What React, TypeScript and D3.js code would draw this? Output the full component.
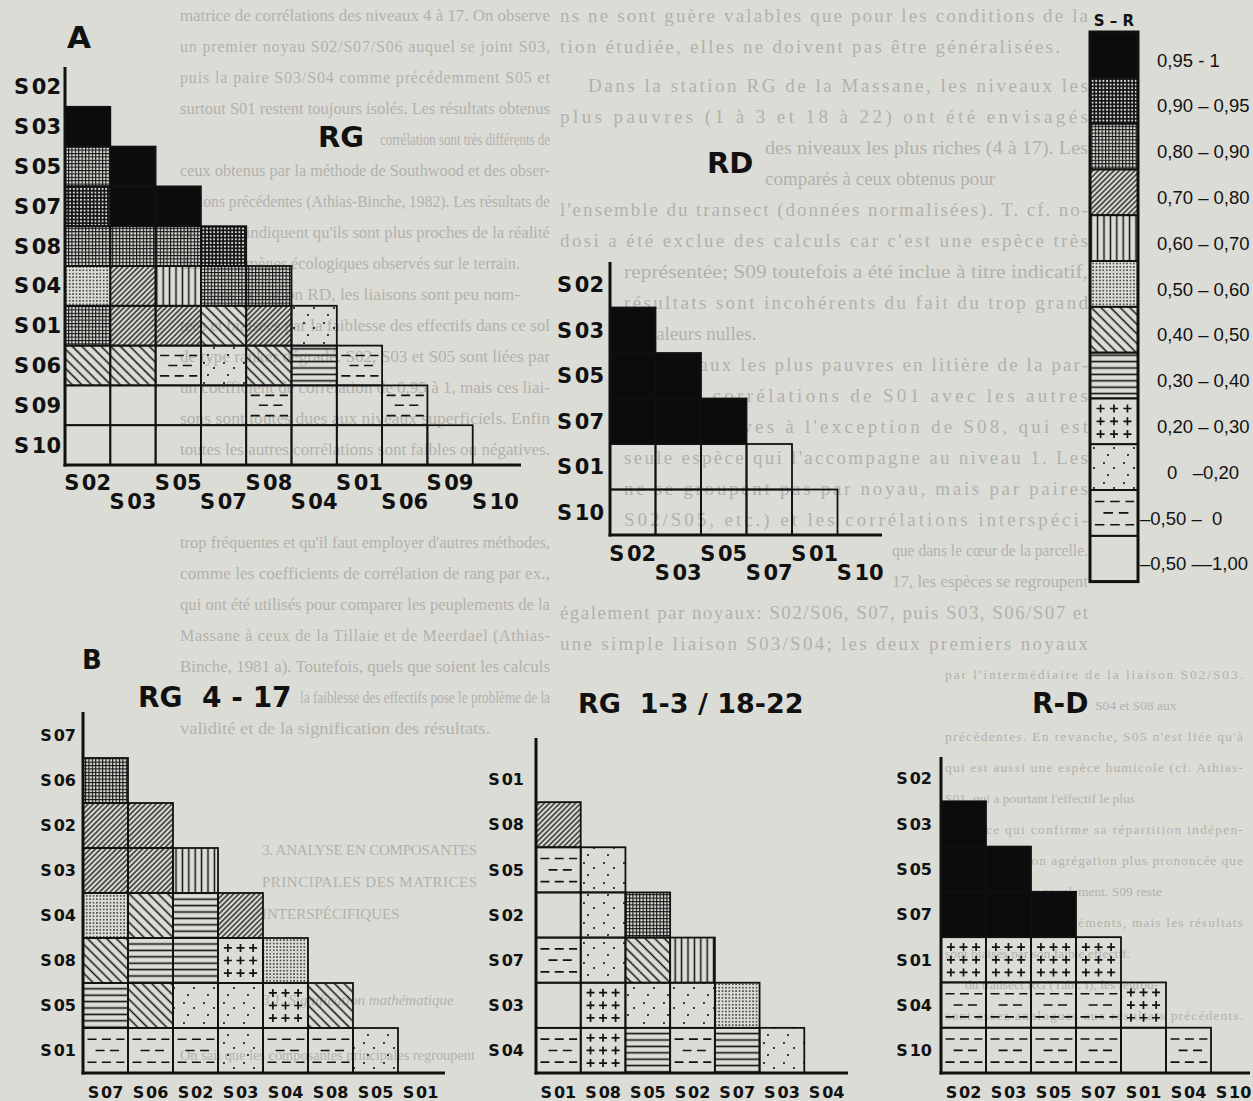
import React from "react";
import * as d3 from "d3";

const W = 1253;
const H = 1101;
const PAPER = "#dcdcd7";
const INK = "#111111";
const GHOST = "#b1b1ac";

// ---------- legend classes (S - R) ----------
const classLabels = [
  "0,95 - 1",
  "0,90 – 0,95",
  "0,80 – 0,90",
  "0,70 – 0,80",
  "0,60 – 0,70",
  "0,50 – 0,60",
  "0,40 – 0,50",
  "0,30 – 0,40",
  "0,20 – 0,30",
  "0   –0,20",
  "–0,50 –  0",
  "–0,50 ––1,00",
];

// ---------- A : RG ----------
const rgSpecies = ["S02", "S03", "S05", "S07", "S08", "S04", "S01", "S06", "S09", "S10"];
const rgMatrix = [
  [],
  [0],
  [2, 0],
  [1, 0, 0],
  [2, 2, 2, 1],
  [5, 3, 4, 2, 2],
  [2, 3, 3, 6, 3, 9],
  [6, 6, 10, 9, 6, 7, 10],
  [11, 11, 11, 11, 10, 11, 11, 10],
  [11, 11, 11, 11, 11, 11, 11, 11, 11],
];

// ---------- A : RD ----------
const rdSpecies = ["S02", "S03", "S05", "S07", "S01", "S10"];
const rdMatrix = [
  [],
  [0],
  [0, 0],
  [0, 0, 0],
  [11, 11, 11, 11],
  [11, 11, 11, 11, 11],
];

// ---------- B : RG 4-17 ----------
const rg417Species = ["S07", "S06", "S02", "S03", "S04", "S08", "S05", "S01"];
const rg417Matrix = [
  [],
  [2],
  [3, 3],
  [3, 3, 4],
  [5, 6, 7, 3],
  [6, 7, 7, 8, 5],
  [7, 6, 9, 9, 8, 6],
  [10, 10, 10, 9, 10, 10, 9],
];

// ---------- B : RG 1-3 / 18-22 ----------
const rg13Species = ["S01", "S08", "S05", "S02", "S07", "S03", "S04"];
const rg13Matrix = [
  [],
  [3],
  [10, 9],
  [11, 9, 2],
  [10, 9, 6, 4],
  [11, 8, 9, 9, 5],
  [10, 8, 7, 10, 7, 9],
];

// ---------- B : R-D ----------
const rdBSpecies = ["S02", "S03", "S05", "S07", "S01", "S04", "S10"];
const rdBMatrix = [
  [],
  [0],
  [0, 0],
  [0, 0, 0],
  [8, 8, 8, 8],
  [10, 10, 10, 10, 8],
  [10, 10, 10, 10, 11, 10],
];

// ---------- faint page text showing through (visible fragments) ----------
const ghostLeft = [
  "matrice de corrélations des niveaux 4 à 17. On observe",
  "un premier noyau S02/S07/S06 auquel se joint S03,",
  "puis la paire S03/S04 comme précédemment S05 et",
  "surtout S01 restent toujours isolés. Les résultats obtenus",
  "corrélation sont très différents de",
  "ceux obtenus par la méthode de Southwood et des obser-",
  "vations précédentes (Athias-Binche, 1982). Les résultats de",
  "ce travail indiquent qu'ils sont plus proches de la réalité",
  "des phénomènes écologiques observés sur le terrain.",
  "Dans la station RD, les liaisons sont peu nom-",
  "tées et biaisées par la faiblesse des effectifs dans ce sol",
  "de type ranker dégradé. S02, S03 et S05 sont liées par",
  "un coefficient de corrélation de 0,95 à 1, mais ces liai-",
  "sons sont toutes dues aux niveaux superficiels. Enfin",
  "toutes les autres corrélations sont faibles ou négatives.",
  "trop fréquentes et qu'il faut employer d'autres méthodes,",
  "comme les coefficients de corrélation de rang par ex.,",
  "qui ont été utilisés pour comparer les peuplements de la",
  "Massane à ceux de la Tillaie et de Meerdael (Athias-",
  "Binche, 1981 a). Toutefois, quels que soient les calculs",
  "la faiblesse des effectifs pose le problème de la",
  "validité et de la signification des résultats.",
  "3. ANALYSE EN COMPOSANTES",
  "PRINCIPALES DES MATRICES",
  "INTERSPÉCIFIQUES",
  "3.1. Signification mathématique",
  "On sait que les composantes principales regroupent",
];
const ghostRight = [
  "ns ne sont guère valables que pour les conditions de la",
  "tion étudiée, elles ne doivent pas être généralisées.",
  "Dans la station RG de la Massane, les niveaux les",
  "plus pauvres (1 à 3 et 18 à 22) ont été envisagés",
  "des niveaux les plus riches (4 à 17). Les",
  "comparés à ceux obtenus pour",
  "l'ensemble du transect (données normalisées). T. cf. no-",
  "dosi a été exclue des calculs car c'est une espèce très",
  "représentée; S09 toutefois a été inclue à titre indicatif,",
  "résultats sont incohérents du fait du trop grand",
  "de valeurs nulles.",
  "les niveaux les plus pauvres en litière de la par-",
  "RG, les corrélations de S01 avec les autres",
  "sont négatives à l'exception de S08, qui est",
  "seule espèce qui l'accompagne au niveau 1. Les",
  "ne se groupent pas par noyau, mais par paires",
  "S02/S05, etc.) et les corrélations interspéci-",
  "que dans le cœur de la parcelle.",
  "17, les espèces se regroupent",
  "également par noyaux: S02/S06, S07, puis S03, S06/S07 et",
  "une simple liaison S03/S04; les deux premiers noyaux",
  "par l'intermédiaire de la liaison S02/S03.",
  "S04 et S08 aux",
  "précédentes. En revanche, S05 n'est liée qu'à",
  "qui est aussi une espèce humicole (cf. Athias-",
  "S01, qui a pourtant l'effectif le plus",
  "isolé, ce qui confirme sa répartition indépen-",
  "du milieu et son agrégation plus prononcée que",
  "autres espèces du peuplement. S09 reste",
  "éloigné des autres éléments, mais les résultats",
  "sont biaisés par son faible effectif.",
  "du transect RG (Tabl. I), les regrou-",
  "sont assez analogues aux résultats précédents.",
];

// ---------- layout (positions only) ----------
// [x, y, width (0 = natural), fontSize, style]
const ghostLeftPos: [number, number, number, number, string][] = [
  [180, 15, 370, 16, "n"], [180, 46, 370, 16, "n"], [180, 77, 370, 16, "n"], [180, 108, 370, 16, "n"],
  [380, 139, 170, 16, "n"], [180, 170, 370, 16, "n"], [180, 201, 370, 16, "n"], [180, 232, 370, 16, "n"],
  [180, 263, 340, 16, "n"], [200, 294, 320, 16, "n"], [180, 325, 370, 16, "n"], [180, 356, 370, 16, "n"],
  [180, 387, 370, 16, "n"], [180, 418, 370, 16, "n"], [180, 449, 370, 16, "n"], [180, 542, 370, 16, "n"],
  [180, 573, 370, 16, "n"], [180, 604, 370, 16, "n"], [180, 635, 370, 16, "n"], [180, 666, 370, 16, "n"],
  [300, 697, 250, 16, "n"], [180, 728, 310, 16, "n"],
  [262, 850, 215, 15, "n"], [262, 882, 215, 15, "n"], [262, 914, 0, 15, "n"],
  [262, 1000, 0, 15, "i"], [180, 1055, 295, 15, "n"],
];
const ghostRightPos: [number, number, number, number, string][] = [
  [560, 15, 528, 19, "n"], [560, 46, 500, 19, "n"], [588, 85, 500, 19, "n"], [560, 116, 528, 19, "n"],
  [765, 147, 323, 19, "n"], [765, 178, 0, 19, "n"], [560, 209, 528, 19, "n"], [560, 240, 528, 19, "n"],
  [624, 271, 464, 19, "n"], [624, 302, 464, 19, "n"], [624, 333, 0, 19, "n"], [624, 364, 464, 19, "n"],
  [624, 395, 464, 19, "n"], [624, 426, 464, 19, "n"], [624, 457, 464, 19, "n"], [624, 488, 464, 19, "n"],
  [624, 519, 464, 19, "n"], [892, 550, 196, 17, "n"], [892, 581, 196, 17, "n"], [560, 612, 528, 19, "n"],
  [560, 643, 528, 19, "n"],
  [945, 674, 298, 13.5, "n"], [1095, 705, 0, 13.5, "n"], [945, 736, 298, 13.5, "n"], [945, 767, 298, 13.5, "n"],
  [945, 798, 0, 13.5, "n"], [945, 829, 298, 13.5, "n"], [945, 860, 298, 13.5, "n"], [945, 891, 0, 13.5, "n"],
  [945, 922, 298, 13.5, "n"], [945, 953, 0, 13.5, "n"], [965, 984, 0, 13.5, "n"], [945, 1015, 298, 13.5, "n"],
];

type PanelLayout = {
  x0: number; x1: number; yTop: number; yBottom: number;
  axisTop: number; axisRight: number;
  fs: number; gap: number; xLabelY: number; xLabelY2?: number;
  title: string; titleX: number; titleY: number; titleSize: number;
};

const panels: { species: string[]; matrix: number[][]; lay: PanelLayout }[] = [
  { species: rgSpecies, matrix: rgMatrix, lay: { x0: 65, x1: 518, yTop: 67, yBottom: 465, axisTop: 67, axisRight: 521, fs: 21, gap: 4, xLabelY: 482, xLabelY2: 501, title: "RG", titleX: 318, titleY: 137, titleSize: 29 } },
  { species: rdSpecies, matrix: rdMatrix, lay: { x0: 610, x1: 883, yTop: 262, yBottom: 535, axisTop: 262, axisRight: 882, fs: 21, gap: 6, xLabelY: 553, xLabelY2: 572, title: "RD", titleX: 707, titleY: 163, titleSize: 29 } },
  { species: rg417Species, matrix: rg417Matrix, lay: { x0: 83, x1: 443, yTop: 713, yBottom: 1073, axisTop: 712, axisRight: 445, fs: 16, gap: 7, xLabelY: 1092, title: "RG  4 - 17", titleX: 138, titleY: 697, titleSize: 28 } },
  { species: rg13Species, matrix: rg13Matrix, lay: { x0: 536, x1: 849, yTop: 757, yBottom: 1073, axisTop: 738, axisRight: 848, fs: 16, gap: 12, xLabelY: 1092, title: "RG  1-3 / 18-22", titleX: 578, titleY: 703, titleSize: 27 } },
  { species: rdBSpecies, matrix: rdBMatrix, lay: { x0: 941, x1: 1256, yTop: 756, yBottom: 1073, axisTop: 757, axisRight: 1250, fs: 16, gap: 9, xLabelY: 1092, title: "R-D", titleX: 1032, titleY: 703, titleSize: 28 } },
];

const LABEL_FONT = "'DejaVu Sans', sans-serif";
const LEGEND = { x: 1090, w: 48, top: 32, h: 45.8 };
const legendLabelX = [1157, 1157, 1157, 1157, 1157, 1157, 1157, 1157, 1157, 1167, 1140, 1140];

const fillFor = (c: number) =>
  ["#0c0c0c", "url(#p1)", "url(#p2)", "url(#p3)", "url(#p4)", "url(#p5)", "url(#p6)", "url(#p7)", "none", "url(#p9)", "none", "none"][c];

function Glyphs({ x, y, w, h, c }: { x: number; y: number; w: number; h: number; c: number }) {
  if (c === 8) {
    const fx = [0.22, 0.5, 0.78];
    const fy = [0.22, 0.5, 0.78];
    let d = "";
    fy.forEach((b) => fx.forEach((a) => {
      const cx = x + a * w, cy = y + b * h;
      d += `M${cx - 4},${cy}H${cx + 4}M${cx},${cy - 4}V${cy + 4}`;
    }));
    return <path d={d} stroke={INK} strokeWidth={1.7} fill="none" />;
  }
  if (c === 10) {
    const rows: [number, [number, number][]][] = [
      [0.25, [[0.1, 0.3], [0.42, 0.62], [0.74, 0.92]]],
      [0.5, [[0.28, 0.48], [0.6, 0.8]]],
      [0.76, [[0.1, 0.3], [0.42, 0.62], [0.74, 0.92]]],
    ];
    let d = "";
    rows.forEach(([fy, segs]) => segs.forEach(([a, b]) => {
      d += `M${x + a * w},${y + fy * h}H${x + b * w}`;
    }));
    return <path d={d} stroke={INK} strokeWidth={1.6} fill="none" />;
  }
  return null;
}

function Cell({ x, y, w, h, c }: { x: number; y: number; w: number; h: number; c: number }) {
  return (
    <g>
      <rect x={x} y={y} width={w} height={h} fill={fillFor(c)} stroke={INK} strokeWidth={1.8} />
      <Glyphs x={x} y={y} w={w} h={h} c={c} />
    </g>
  );
}

function SLabel({ name, x, y, anchor, fs }: { name: string; x: number; y: number; anchor: string; fs: number }) {
  return (
    <text x={x} y={y} dy="0.36em" textAnchor={anchor} fontFamily={LABEL_FONT} fontWeight={700} fontSize={fs} fill={INK}>
      <tspan>{name.slice(0, 1)}</tspan>
      <tspan dx={fs * 0.12}>{name.slice(1)}</tspan>
    </text>
  );
}

function Matrix({ species, matrix, lay }: { species: string[]; matrix: number[][]; lay: PanelLayout }) {
  const x = d3.scaleBand<string>().domain(species).range([lay.x0, lay.x1]);
  const y = d3.scaleBand<string>().domain(species).range([lay.yTop, lay.yBottom]);
  const bw = x.bandwidth();
  const bh = y.bandwidth();
  return (
    <g>
      {matrix.map((row, i) =>
        row.map((c, j) => (
          <Cell key={`${i}-${j}`} x={x(species[j])!} y={y(species[i])!} w={bw} h={bh} c={c} />
        ))
      )}
      <line x1={lay.x0} x2={lay.x0} y1={lay.axisTop} y2={lay.yBottom + 1.5} stroke={INK} strokeWidth={3} />
      <line x1={lay.x0 - 1.5} x2={lay.axisRight} y1={lay.yBottom} y2={lay.yBottom} stroke={INK} strokeWidth={3} />
      {species.map((s) => (
        <SLabel key={"y" + s} name={s} x={lay.x0 - lay.gap} y={y(s)! + bh / 2} anchor="end" fs={lay.fs} />
      ))}
      {species.map((s, i) => (
        <SLabel
          key={"x" + s}
          name={s}
          x={x(s)! + bw / 2}
          y={lay.xLabelY2 !== undefined && i % 2 === 1 ? lay.xLabelY2 : lay.xLabelY}
          anchor="middle"
          fs={lay.fs}
        />
      ))}
      <text x={lay.titleX} y={lay.titleY} dy="0.36em" fontFamily={LABEL_FONT} fontWeight={700} fontSize={lay.titleSize} fill={INK} style={{ whiteSpace: "pre" }}>
        {lay.title}
      </text>
    </g>
  );
}

function Legend() {
  const y = d3.scaleBand<number>().domain(d3.range(classLabels.length)).range([LEGEND.top, LEGEND.top + LEGEND.h * classLabels.length]);
  return (
    <g>
      <text x={LEGEND.x + LEGEND.w / 2} y={21} dy="0.36em" textAnchor="middle" fontFamily={LABEL_FONT} fontWeight={700} fontSize={15} fill={INK}>
        S – R
      </text>
      {classLabels.map((lab, i) => (
        <g key={i}>
          <Cell x={LEGEND.x} y={y(i)!} w={LEGEND.w} h={y.bandwidth()} c={i} />
          <text x={legendLabelX[i]} y={y(i)! + y.bandwidth() / 2 + 5} dy="0.36em" fontFamily="'Liberation Sans', Arial, sans-serif" fontSize={18.5} fill={INK} style={{ whiteSpace: "pre" }}>
            {lab}
          </text>
        </g>
      ))}
      <rect x={LEGEND.x} y={LEGEND.top} width={LEGEND.w} height={LEGEND.h * classLabels.length} fill="none" stroke={INK} strokeWidth={3} />
    </g>
  );
}

function GhostLine({ t, pos }: { t: string; pos: [number, number, number, number, string] }) {
  const [x, y, w, fs, st] = pos;
  const natural = t.length * 0.44 * fs;
  const extra = w > 0 ? { textLength: w, lengthAdjust: w > natural ? "spacing" : "spacingAndGlyphs" } : {};
  return (
    <text
      x={x}
      y={y}
      dy="0.35em"
      fontFamily="'Liberation Serif', 'DejaVu Serif', serif"
      fontStyle={st === "i" ? "italic" : "normal"}
      fontSize={fs}
      fill={GHOST}
      {...extra}
    >
      {t}
    </text>
  );
}

function Ghost() {
  return (
    <g>
      {ghostLeft.map((t, i) => <GhostLine key={"l" + i} t={t} pos={ghostLeftPos[i]} />)}
      {ghostRight.map((t, i) => <GhostLine key={"r" + i} t={t} pos={ghostRightPos[i]} />)}
    </g>
  );
}

export default function App() {
  return (
    <div style={{ position: "absolute", left: 0, top: 0, width: W, height: H, background: PAPER }}>
      <svg width={W} height={H} viewBox={`0 0 ${W} ${H}`} style={{ display: "block" }}>
        <defs>
          <pattern id="p1" width={3.6} height={3.6} patternUnits="userSpaceOnUse">
            <rect width={3.6} height={3.6} fill={INK} />
            <circle cx={1.8} cy={1.8} r={1.05} fill="#e6e6e2" />
          </pattern>
          <pattern id="p2" width={3.4} height={3.4} patternUnits="userSpaceOnUse">
            <path d="M0,0.55H3.4M0.55,0V3.4" stroke={INK} strokeWidth={1.1} />
          </pattern>
          <pattern id="p3" width={3.7} height={10} patternUnits="userSpaceOnUse" patternTransform="rotate(45)">
            <line x1={1.85} y1={0} x2={1.85} y2={10} stroke={INK} strokeWidth={1.3} />
          </pattern>
          <pattern id="p4" width={6.4} height={10} patternUnits="userSpaceOnUse">
            <line x1={3.2} y1={0} x2={3.2} y2={10} stroke={INK} strokeWidth={1.5} />
          </pattern>
          <pattern id="p5" width={3.4} height={3.4} patternUnits="userSpaceOnUse">
            <circle cx={1.7} cy={1.7} r={0.85} fill="#222" />
          </pattern>
          <pattern id="p6" width={6.8} height={10} patternUnits="userSpaceOnUse" patternTransform="rotate(-45)">
            <line x1={3.4} y1={0} x2={3.4} y2={10} stroke={INK} strokeWidth={1.5} />
          </pattern>
          <pattern id="p7" width={10} height={6.4} patternUnits="userSpaceOnUse">
            <line x1={0} y1={3.2} x2={10} y2={3.2} stroke={INK} strokeWidth={1.6} />
          </pattern>
          <pattern id="p9" width={20} height={20} patternUnits="userSpaceOnUse">
            <circle cx={4} cy={3} r={1.05} fill={INK} />
            <circle cx={14} cy={8} r={1.05} fill={INK} />
            <circle cx={8} cy={15} r={1.05} fill={INK} />
          </pattern>
        </defs>
        <rect width={W} height={H} fill={PAPER} />
        <Ghost />
        <text x={67} y={37} dy="0.36em" fontFamily={LABEL_FONT} fontWeight={700} fontSize={31} fill={INK}>A</text>
        <text x={82} y={660} dy="0.36em" fontFamily={LABEL_FONT} fontWeight={700} fontSize={26} fill={INK}>B</text>
        {panels.map((p, i) => (
          <Matrix key={i} species={p.species} matrix={p.matrix} lay={p.lay} />
        ))}
        <Legend />
      </svg>
    </div>
  );
}
